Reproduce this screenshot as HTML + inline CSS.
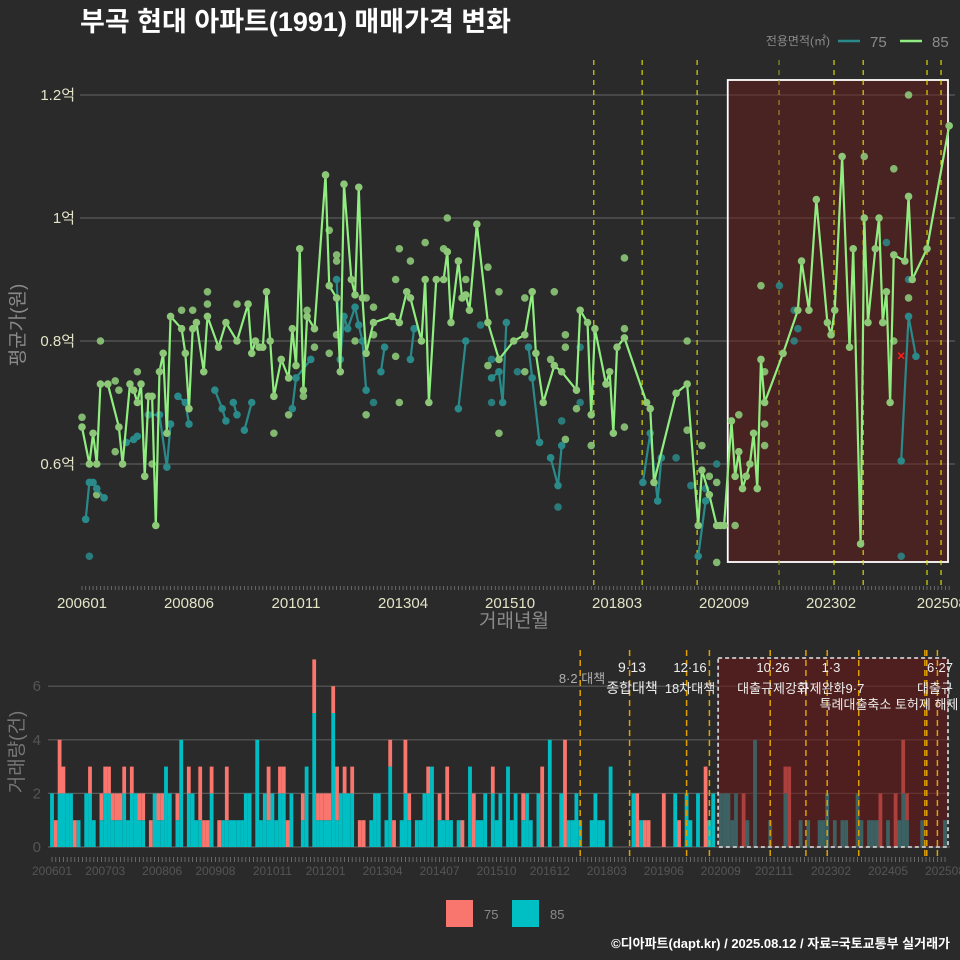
<!DOCTYPE html>
<html><head><meta charset="utf-8">
<style>
html,body{margin:0;padding:0;background:#2a2a2a;}
svg{display:block;font-family:"Liberation Sans","Noto Sans CJK KR",sans-serif;}
</style></head>
<body>
<svg id="chart" width="960" height="960" viewBox="0 0 960 960">
<rect x="0" y="0" width="960" height="960" fill="#2a2a2a"/>
<text x="80" y="31" fill="#ffffff" font-size="27" font-weight="bold">부곡 현대 아파트(1991) 매매가격 변화</text>
<g>
<text x="830" y="45" fill="#8a8a8a" font-size="12" text-anchor="end">전용면적(㎡)</text>
<line x1="838" y1="41" x2="860" y2="41" stroke="#2a8a8a" stroke-width="2.5"/>
<text x="870" y="47" fill="#8a8a8a" font-size="15">75</text>
<line x1="900" y1="41" x2="922" y2="41" stroke="#90ee80" stroke-width="2.5"/>
<text x="932" y="47" fill="#8a8a8a" font-size="15">85</text>
</g>
<g id="topPanel"></g>
<g id="botPanel"></g>
<g>
<rect x="446" y="900" width="27" height="27" fill="#f8766d"/>
<text x="484" y="919" fill="#8a8a8a" font-size="13">75</text>
<rect x="512" y="900" width="27" height="27" fill="#00bfc4"/>
<text x="550" y="919" fill="#8a8a8a" font-size="13">85</text>
</g>
<text x="950" y="948" fill="#ffffff" font-size="13" font-weight="bold" text-anchor="end">©디아파트(dapt.kr) / 2025.08.12 / 자료=국토교통부 실거래가</text>
</svg>
<script>
// ---------- data ----------
const line85Months = [0,2,3,4,5,7,10,11,13,14,15,16,17,18,19,20,21,22,23,24,27,28,29,30,31,33,34,37,39,42,45,46,47,48,49,50,51,52,54,56,57,58,59,60,61,63,66,67,69,70,71,73,74,75,76,
77,79,84,86,88,89,92,93,94,96,98,99,100,102,103,104,105,107,110,113,117,120,122,123,125,128,130,134,135,137,138,139,142,143,144,145,147,153,154,155,161,164,167,168,170,172,
173,174,176,177,178,179,180,181,182,183,184,185,190,194,195,197,199,202,203,204,206,208,209,211,212,213,215,216,217,218,219,220,223,224,225,229,235];
const line85Values = [.66,.60,.65,.60,.73,.73,.66,.60,.73,.72,.70,.73,.58,.71,.71,.50,.75,.78,.65,.84,.82,.78,.69,.82,.83,.75,.84,.79,.83,.80,.86,.78,.80,.79,.79,.88,.80,.71,.77,.74,.82,.76,.95,.72,.84,.82,1.07,.89,.87,.75,1.055,.90,.875,1.05,.87,
.78,.83,.84,.83,.88,.87,.80,.90,.70,.90,.90,.945,.83,.93,.87,.875,.85,.99,.83,.77,.80,.81,.88,.78,.70,.76,.75,.72,.85,.83,.68,.82,.73,.75,.65,.79,.805,.70,.69,.57,.715,.73,.50,.59,.55,.50,
.50,.50,.67,.58,.62,.56,.58,.60,.65,.56,.77,.70,.78,.85,.93,.85,1.03,.83,.81,.85,1.10,.79,.95,.47,1.0,.83,.95,1.0,.83,.88,.70,.94,.93,1.035,.90,.95,1.15];
const line75Months = [1,2,3,4,6,null,12,14,15,null,18,21,23,24,null,26,28,29,null,36,38,39,null,41,42,null,44,46,null,57,58,62,null,69,70,71,72,74,75,76,77,null,81,82,null,89,90,null,102,104,null,111,113,114,115,null,121,122,124,null,127,129,130,null,152,154,156,157,null,167,169,null,222,224,226];
const line75Values = [.51,.57,.57,.56,.545,null,.635,.64,.645,null,.68,.68,.595,.665,null,.71,.70,.665,null,.72,.69,.67,null,.70,.68,null,.655,.70,null,.69,.74,.77,null,.90,.77,.84,.82,.855,.826,.80,.72,null,.75,.79,null,.77,.82,null,.69,.80,null,.74,.75,.70,.83,null,.79,.74,.635,null,.61,.565,.63,null,.57,.65,.54,.61,null,.45,.54,null,.605,.84,.775];
const extra85Months = [5,9,10,4,0,15,9,19,27,30,34,34,42,52,56,60,61,63,67,69,69,69,67,74,77,77,79,79,85,85,86,86,89,93,98,99,104,110,110,113,113,120,120,128,127,131,131,131,134,138,147,147,147,164,164,168,172,172,170,177,178,184,185,185,185,220,224,224,220,212];
const extra85Values = [.80,.735,.72,.55,.676,.75,.62,.60,.85,.85,.88,.86,.86,.65,.68,.71,.85,.79,.98,.94,.93,.81,.78,.80,.68,.87,.855,.81,.90,.775,.95,.70,.93,.96,.95,1.0,.90,.92,.76,.88,.65,.87,.75,.88,.77,.81,.79,.64,.69,.63,.935,.82,.66,.80,.655,.63,.57,.44,.58,.50,.68,.89,.75,.665,.63,1.08,1.20,.87,.80,1.10];
const extra75Months = [2,108,111,111,118,130,135,135,129,161,165,172,79,169,189,193,194,193,218,222,224];
const extra75Values = [.45,.826,.77,.70,.75,.67,.79,.70,.53,.61,.565,.60,.70,.56,.89,.85,.82,.80,.96,.45,.90];
const flagMonth = [222];
const flagValue = [.776];
const priceTicks = [0.6,0.8,1.0,1.2];
const priceTickLabels = ["0.6억","0.8억","1억","1.2억"];
const topTickMonths = [0,29,58,87,116,145,174,203,233];
const topTickLabels = ["200601","200806","201011","201304","201510","201803","202009","202302","202508"];
const topPolicyMonths = [138.7,151.8,166.7,188.9,203.8,211.7,229,232.8];

const vol85 = [2,0,2,2,2,2,0,1,0,2, 2,1,0,1,2,2,1,1,1,2, 1,2,2,1,1,0,0,2,1,1, 3,2,0,1,4,0,2,2,1,1,
0,0,2,0,0,1,1,1,1,1, 1,2,2,0,4,1,2,1,2,1, 2,2,0,2,0,0,1,3,0,5, 1,1,1,1,5,1,2,2,2,2,
0,0,0,0,1,2,2,0,1,3, 0,0,1,2,1,0,1,1,2,2, 3,0,1,1,1,1,0,1,0,0, 3,0,1,1,2,0,2,1,2,0,
3,1,2,0,1,2,1,0,2,0, 0,4,0,0,2,0,1,1,2,1, 0,0,1,2,1,1,0,3,0,0, 0,0,0,2,0,1,0,0,0,0,
0,0,0,0,2,0,0,2,1,0, 2,0,0,1,2,0,2,2,2,1, 2,0,0,1,0,4,0,0,0,1, 0,0,0,2,0,0,0,1,0,1,
0,0,1,1,2,0,1,0,1,1, 0,0,2,1,0,1,1,1,0,0, 1,0,0,1,2,1,0,0,0,1, 0,0,0,0,0,1];
const vol75 = [0,1,2,1,0,0,1,0,0,0, 1,0,0,1,1,1,1,1,1,1, 0,1,0,1,1,0,1,0,1,1, 0,0,0,1,0,0,1,0,0,2,
1,1,1,0,1,0,2,0,0,0, 0,0,0,0,0,0,0,2,0,0, 1,1,1,0,0,0,1,0,0,2, 1,1,1,1,1,2,0,1,0,1,
0,1,1,0,0,0,0,0,0,1, 1,0,0,2,1,0,0,0,0,1, 0,0,1,0,2,0,0,0,1,0, 0,2,0,0,0,0,1,0,0,0,
0,0,0,0,1,0,0,0,0,3, 0,0,0,0,0,4,0,0,0,0, 0,0,0,0,0,0,0,0,0,0, 0,0,0,0,2,0,1,1,0,0,
0,2,0,0,0,1,0,0,0,0, 0,0,3,0,0,0,0,0,0,0, 0,0,2,0,0,0,0,0,0,0, 0,0,0,1,3,0,0,0,0,0,
0,0,0,0,0,0,0,0,0,0, 0,0,0,0,0,0,0,0,2,0, 0,0,2,0,2,1,0,0,0,0, 0,0,0,0,0,0];
const volTicks = [0,2,4,6];
const botTickMonths = [0,14,29,43,58,72,87,102,117,131,146,161,176,190,205,220,235];
const botTickLabels = ["200601","200703","200806","200908","201011","201201","201304","201407","201510","201612","201803","201906","202009","202111","202302","202405","202508"];
const botPolicyMonths = [139,152,167,173,189,198.4,204,212.3,229.7,230.2,233];

// ---------- helpers ----------
const NS = "http://www.w3.org/2000/svg";
function mk(parent, tag, attrs, text){
  const el = document.createElementNS(NS, tag);
  for (const k in attrs) el.setAttribute(k, attrs[k]);
  if (text !== undefined) el.textContent = text;
  parent.appendChild(el);
  return el;
}
const topX = m => 82 + m * 3.69;
const topY = v => 464 - (v - 0.6) * 615;
const botX = m => 52 + m * 3.8;
const botY = n => 847 - n * 26.8;
const ok = v => typeof v === "number" && isFinite(v);

// ---------- top panel ----------
const topG = document.getElementById("topPanel");
priceTicks.forEach((t, i) => {
  const g = mk(topG, "line", {x1: 80, x2: 955, y1: topY(t), y2: topY(t), stroke: "#5a5a5a", "stroke-width": 1.2});
  
  
  const lb = mk(topG, "text", {x: 75, y: topY(t) + 5, fill: "#e4e4c8", "font-size": 15, "text-anchor": "end"}, priceTickLabels[i]);
  
  
});
const hl = mk(topG, "rect", {x: topX(175), y: 80, width: 948 - topX(175), height: 482, fill: "rgba(110,25,25,0.45)", stroke: "#ffffff", "stroke-width": 1.8});


topPolicyMonths.forEach((m, i) => {
  const l = mk(topG, "line", {x1: topX(m), x2: topX(m), y1: 60, y2: 585, stroke: i === 3 ? "#9a9a20" : "#e6e600", "stroke-width": 1.1, "stroke-dasharray": "5,5"});
  
  
});
for (let m = 0; m <= 235; m++) {
  const t = mk(topG, "line", {x1: topX(m), x2: topX(m), y1: 586, y2: 590, stroke: "#777", "stroke-width": 0.8});
  
  
}
topTickMonths.forEach((m, i) => {
  const lb = mk(topG, "text", {x: topX(m), y: 608, fill: "#e4e4c8", "font-size": 15, "text-anchor": "middle"}, topTickLabels[i]);
  
  
});
const xt = mk(topG, "text", {x: 514, y: 627, fill: "#8a8a8a", "font-size": 19, "text-anchor": "middle"}, "거래년월");


const yt = mk(topG, "text", {x: 0, y: 0, fill: "#8a8a8a", "font-size": 19, "text-anchor": "middle", transform: "translate(24,325) rotate(-90)"}, "평균가(원)");



extra75Months.forEach((m, i) => {
  if (!ok(extra75Values[i])) return;
  const c = mk(topG, "circle", {cx: topX(m), cy: topY(extra75Values[i]), r: 3.8, fill: "#2a8a8a", opacity: 0.85});
  
  
});
extra85Months.forEach((m, i) => {
  if (!ok(extra85Values[i])) return;
  const c = mk(topG, "circle", {cx: topX(m), cy: topY(extra85Values[i]), r: 3.8, fill: "#8cc878", opacity: 0.9});
  
  
});
let seg = [];
function flush75(){
  if (seg.length > 1) {
    const p = mk(topG, "polyline", {points: seg.join(" "), fill: "none", stroke: "#2a8a8a", "stroke-width": 2.2});
    
    
  }
  seg = [];
}
line75Months.forEach((m, i) => {
  if (m === null || !ok(line75Values[i])) { flush75(); return; }
  seg.push(topX(m) + "," + topY(line75Values[i]));
  const c = mk(topG, "circle", {cx: topX(m), cy: topY(line75Values[i]), r: 3.8, fill: "#2a8a8a"});
  
  
});
flush75();
const pts85 = [];
line85Months.forEach((m, i) => { if (ok(line85Values[i])) pts85.push(topX(m) + "," + topY(line85Values[i])); });
const pl = mk(topG, "polyline", {points: pts85.join(" "), fill: "none", stroke: "#90ee80", "stroke-width": 2.2});


line85Months.forEach((m, i) => {
  if (!ok(line85Values[i])) return;
  const c = mk(topG, "circle", {cx: topX(m), cy: topY(line85Values[i]), r: 3.8, fill: "#8cc878"});
  
  
});
flagMonth.forEach((m, i) => {
  const x = topX(m), y = topY(flagValue[i]);
  const f = mk(topG, "path", {d: `M${x-3},${y-3}L${x+3},${y+3}M${x-3},${y+3}L${x+3},${y-3}`, stroke: "#ff2020", "stroke-width": 1.5});
  
  
});

// ---------- bottom panel ----------
const botG = document.getElementById("botPanel");
volTicks.forEach(t => {
  const g = mk(botG, "line", {x1: 48, x2: 950, y1: botY(t), y2: botY(t), stroke: "#5a5a5a", "stroke-width": 1.2});
  
  
  const lb = mk(botG, "text", {x: 41, y: botY(t) + 5, fill: "#555", "font-size": 15, "text-anchor": "end"}, String(t));
  
  
});
const bw = 3.8;
vol85.forEach((c, m) => {
  const r = vol75[m] || 0;
  if (c > 0) {
    const b = mk(botG, "rect", {x: botX(m) - bw/2, y: botY(c), width: bw, height: botY(0) - botY(c), fill: "#00bfc4"});
    
    
  }
  if (r > 0) {
    const b = mk(botG, "rect", {x: botX(m) - bw/2, y: botY(c + r), width: bw, height: botY(c) - botY(c + r), fill: "#f8766d"});
    
    
  }
});
const hb = mk(botG, "rect", {x: botX(175.3), y: 658, width: 948 - botX(175.3), height: 189, fill: "rgba(110,20,20,0.55)", stroke: "#cccccc", "stroke-width": 1.8, "stroke-dasharray": "4,3"});


botPolicyMonths.forEach(m => {
  const l = mk(botG, "line", {x1: botX(m), x2: botX(m), y1: 650, y2: 857, stroke: "#e0a000", "stroke-width": 1.5, "stroke-dasharray": "6,4"});
  
  
});
for (let m = 0; m <= 235; m++) {
  const t = mk(botG, "line", {x1: botX(m), x2: botX(m), y1: 857, y2: 862, stroke: "#777", "stroke-width": 0.8});
  
  
}
botTickMonths.forEach((m, i) => {
  const lb = mk(botG, "text", {x: botX(m), y: 875, fill: "#555", "font-size": 12, "text-anchor": "middle"}, botTickLabels[i]);
  
  
});
const vyt = mk(botG, "text", {x: 0, y: 0, fill: "#777", "font-size": 19, "text-anchor": "middle", transform: "translate(23,752) rotate(-90)"}, "거래량(건)");



const annText = ["8·2 대책","9·13","종합대책","12·16","18차대책","10·26","대출규제강화","1·3","규제완화9·7","특례대출축소 토허제 해제","6·27","대출규"];
const annX = [582,632,632,690,690,773,773,831,831,889,940,935];
const annY = [683,672,693,672,693,672,693,672,693,709,672,693];
const annFill = ["#b0b0b0","#eee","#eee","#eee","#eee","#eee","#eee","#eee","#eee","#eee","#eee","#eee"];
const annSize = [13,14,14,13,13,13,13,13,13,13,13,13];
annText.forEach((t, i) => {
  const a = mk(botG, "text", {x: annX[i], y: annY[i], fill: annFill[i], "font-size": annSize[i], "text-anchor": "middle"}, t);
  
  
});
</script>
</body></html>
